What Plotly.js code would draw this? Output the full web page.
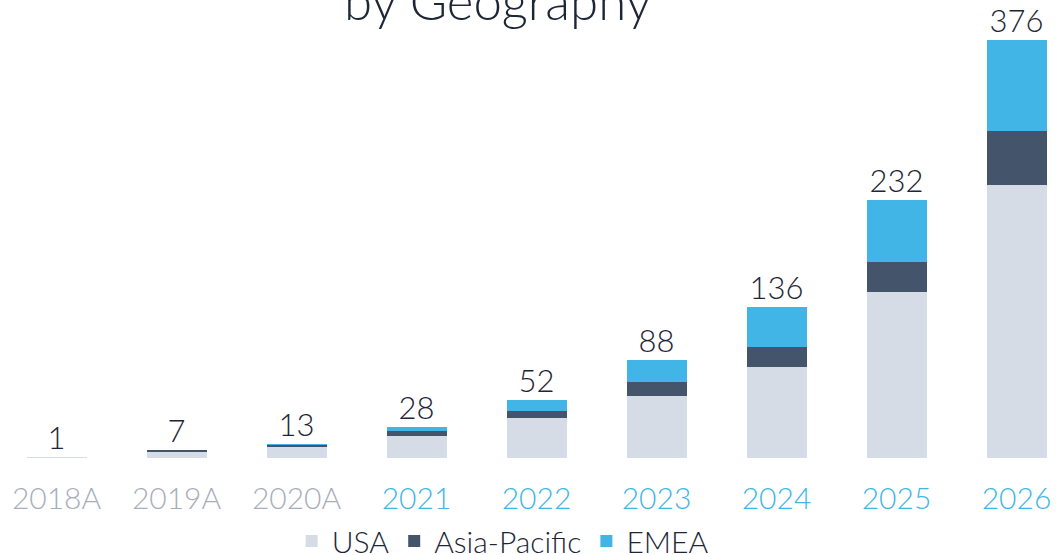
<!DOCTYPE html>
<html>
<head>
<meta charset="utf-8">
<script src="https://cdn.plot.ly/plotly-3.0.1.min.js"></script>
<style>html,body{margin:0;padding:0;background:#fff;}#chart{width:1056px;height:555px;}</style>
</head>
<body>
<div id="chart"></div>
<script>
const categories = ["2018A", "2019A", "2020A", "2021", "2022", "2023", "2024", "2025", "2026"];
const usa = [1, 5, 10, 20, 36, 56, 82, 149, 246];
const asiaPacific = [0, 2, 2, 4, 6, 12, 18, 27, 48];
const emea = [0, 0, 1, 4, 10, 20, 36, 56, 82];
const totalLabels = ["1", "7", "13", "28", "52", "88", "136", "232", "376"];
const isActual = [true, true, true, false, false, false, false, false, false];

const totals = categories.map((c, i) => usa[i] + asiaPacific[i] + emea[i]);
const FONT = "Lato, 'Open Sans', sans-serif";
const DARK = "#1d2636";
const tickText = categories.map((c, i) =>
  '<span style="color:' + (isActual[i] ? '#a7aebb' : '#41b6e6') + '">' + c + '</span>');

const traces = [
  {type: "bar", name: "USA", x: categories, y: usa, marker: {color: "#d6dce5"}, width: 0.5},
  {type: "bar", name: "Asia-Pacific", x: categories, y: asiaPacific, marker: {color: "#44546a"}, width: 0.5},
  {type: "bar", name: "EMEA", x: categories, y: emea, marker: {color: "#41b6e6"}, width: 0.5},
  {type: "scatter", mode: "text", x: categories, y: totals, text: totalLabels,
   textposition: "top center", textfont: {size: 31, color: DARK, family: FONT, weight: 300},
   showlegend: false, hoverinfo: "skip", cliponaxis: false}
];

const layout = {
  width: 1056, height: 555,
  margin: {l: 0, r: 0, t: 0, b: 97, autoexpand: false},
  barmode: "stack",
  paper_bgcolor: "#fff", plot_bgcolor: "#fff",
  font: {family: FONT, color: DARK, weight: 300},
  xaxis: {
    type: "category", range: [-0.471, 8.329], automargin: false,
    tickmode: "array", tickvals: categories, ticktext: tickText,
    tickfont: {size: 30, family: FONT, weight: 300}, ticklabelstandoff: 20,
    showgrid: false, zeroline: false, showline: false, ticks: "", fixedrange: true
  },
  yaxis: {range: [0, 412], visible: false, showgrid: false, zeroline: false, fixedrange: true},
  showlegend: true,
  legend: {
    orientation: "h", x: 0.476, xanchor: "center", y: -0.181, yanchor: "middle",
    font: {size: 30, color: DARK, family: FONT, weight: 300},
    traceorder: "normal", itemclick: false, itemdoubleclick: false
  },
  annotations: [{
    text: "by Geography", xref: "paper", yref: "paper", x: 0.471, y: 1.0,
    yanchor: "middle", showarrow: false,
    font: {size: 51, color: DARK, family: FONT, weight: 300}
  }]
};

Plotly.newPlot("chart", traces, layout, {displayModeBar: false, staticPlot: true});
</script>
</body>
</html>
